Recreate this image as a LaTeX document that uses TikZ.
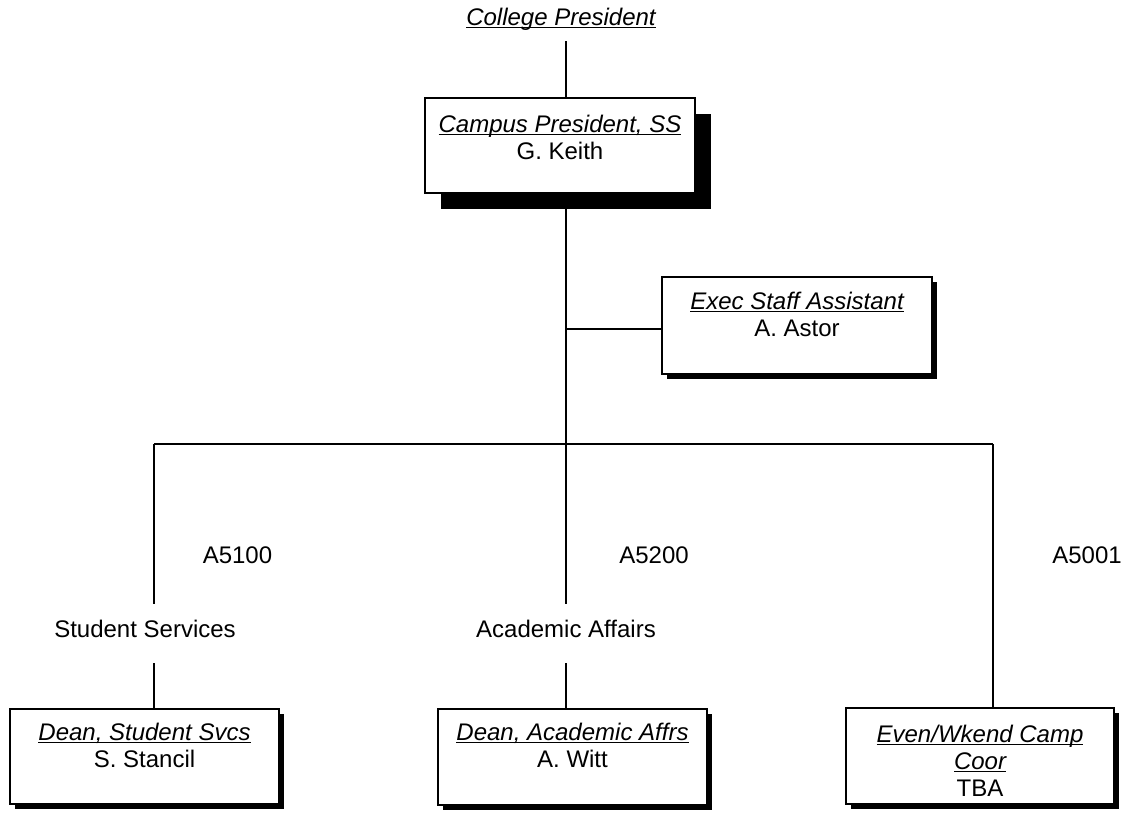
\documentclass[tikz,border=0pt]{standalone}
\usepackage{fontspec}
\setmainfont{Liberation Sans}
\usetikzlibrary{shadows,backgrounds}
\newcommand{\ulit}[1]{\leavevmode{\setbox0=\hbox{\itshape #1}\rlap{\rule[-3pt]{\wd0}{1.4pt}}\box0}}
\tikzset{
  orgbox/.style={draw=black, line width=1.2pt, fill=white, inner sep=0pt, outer sep=0pt,
    font=\fontsize{24}{27}\selectfont},
  bigshadow/.style={general shadow={fill=black, shadow xshift=16pt, shadow yshift=-16pt}},
  smallshadow/.style={general shadow={fill=black, shadow xshift=5pt, shadow yshift=-5pt}},
  lbl/.style={font=\fontsize{24}{27}\selectfont, inner sep=0pt, anchor=base},
  conn/.style={line width=1.6pt, draw=black}
}
\begin{document}
\begin{tikzpicture}[x=1pt,y=-1pt]
\useasboundingbox (0,0) rectangle (1124,812);

% boxes
\node[orgbox,bigshadow,anchor=north west] (campus) at (425,98)
  {\parbox[t][95pt][t]{270pt}{\centering\rule{0pt}{34pt}\ulit{Campus President, SS}\\G. Keith}};
\node[orgbox,smallshadow,anchor=north west] (exec) at (662,277)
  {\parbox[t][97pt][t]{270pt}{\centering\rule{0pt}{32pt}\ulit{Exec Staff Assistant}\\A. Astor}};
\node[orgbox,smallshadow,anchor=north west] (dss) at (10,709)
  {\parbox[t][95pt][t]{269pt}{\centering\rule{0pt}{31pt}\ulit{Dean, Student Svcs}\\S. Stancil}};
\node[orgbox,smallshadow,anchor=north west] (daa) at (438,709)
  {\parbox[t][96pt][t]{269pt}{\centering\rule{0pt}{31pt}\ulit{Dean, Academic Affrs}\\A. Witt}};
\node[orgbox,smallshadow,anchor=north west] (ewc) at (846,708)
  {\parbox[t][96pt][t]{268pt}{\centering\rule{0pt}{34pt}\ulit{Even/Wkend Camp}\\\ulit{Coor}\\TBA}};

% labels
\node[lbl] (college) at (561,25) {\ulit{College President}};
\node[lbl] (a5100) at (237.5,563) {A5100};
\node[lbl] (a5200) at (654,563) {A5200};
\node[lbl] (a5001) at (1087,563) {A5001};
\node[lbl] (ss) at (145,637) {Student Services};
\node[lbl] (aa) at (566,637) {Academic Affairs};

% connector coordinates
\coordinate (top) at (566,41);
\coordinate (jexec) at (566,329);
\coordinate (bus) at (566,444);
\coordinate (busL) at (154,444);
\coordinate (busR) at (993,444);
\coordinate (endL) at (154,604);
\coordinate (endM) at (566,604);
\coordinate (startL) at (154,663);
\coordinate (startM) at (566,663);

\begin{pgfonlayer}{background}
\draw[conn] (top) -- (top |- campus.north);
\draw[conn] (top |- campus.south) -- (bus);
\draw[conn] (jexec) -- (jexec -| exec.west);
\draw[conn] (busL) -- (busR);
\draw[conn] (busL) -- (endL);
\draw[conn] (bus) -- (endM);
\draw[conn] (busR) -- (busR |- ewc.north);
\draw[conn] (startL) -- (startL |- dss.north);
\draw[conn] (startM) -- (startM |- daa.north);
\end{pgfonlayer}
\end{tikzpicture}
\end{document}
